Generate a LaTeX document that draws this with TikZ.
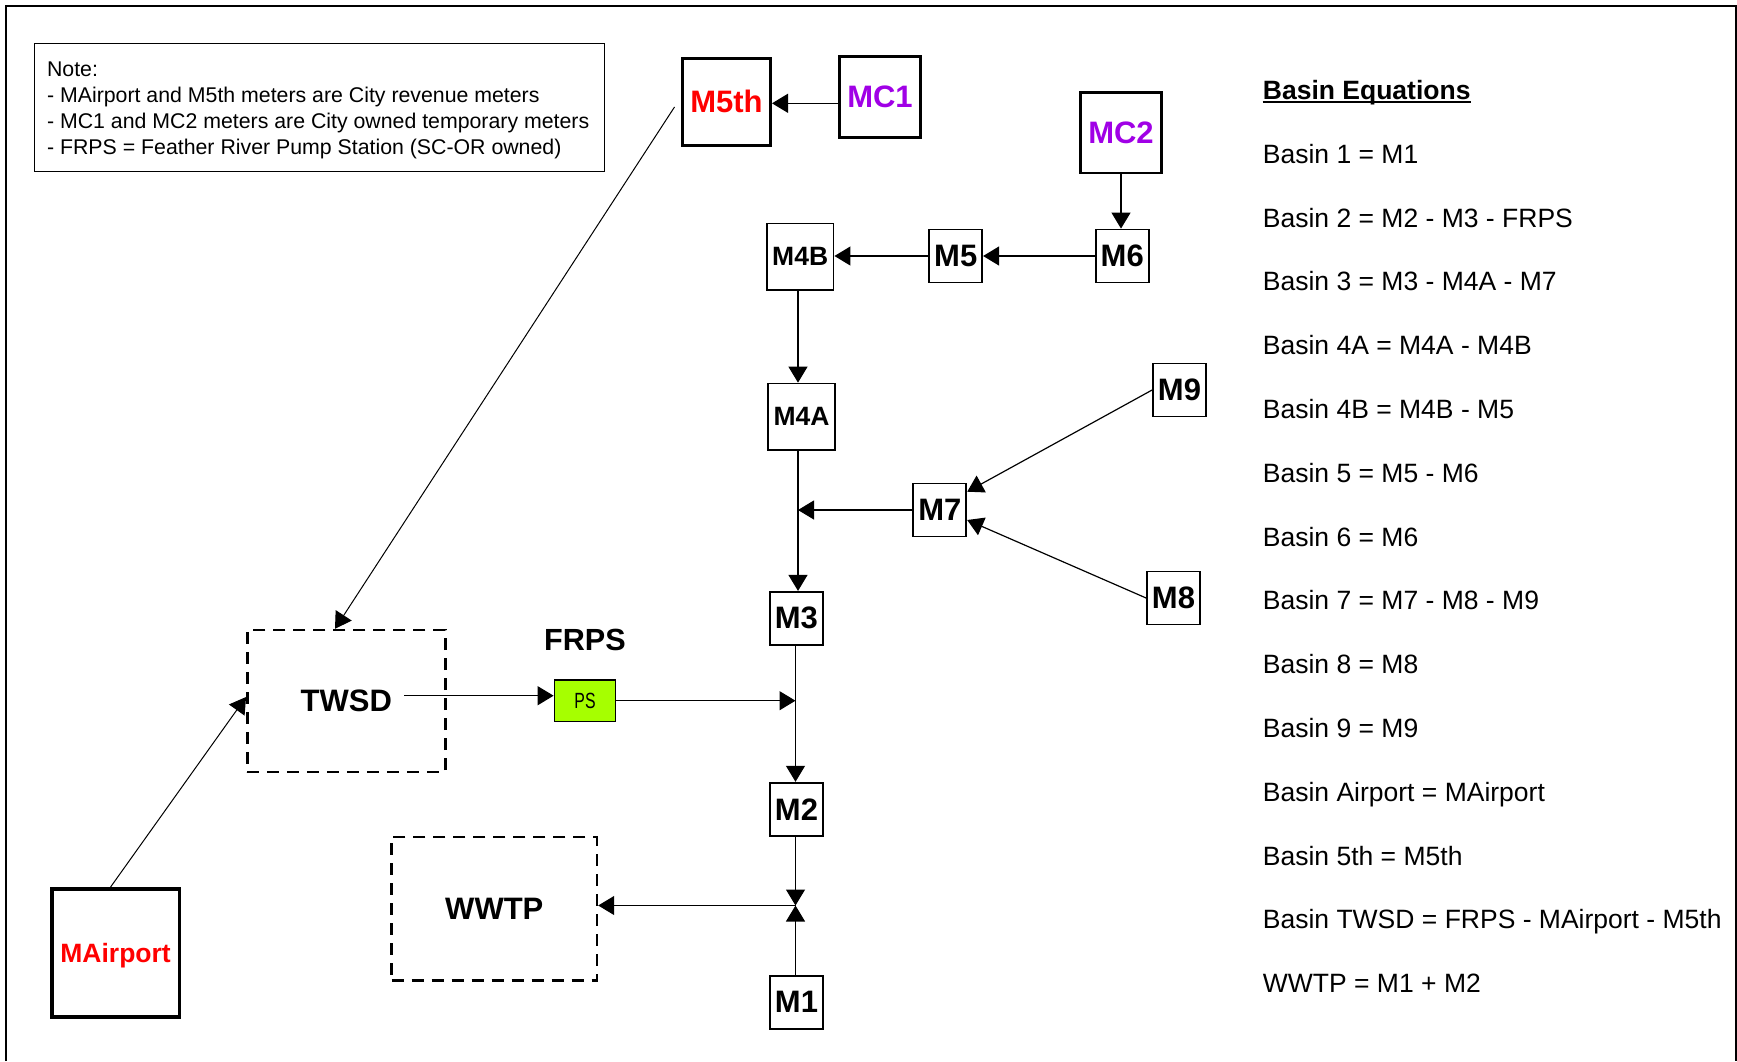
\documentclass[tikz,border=0pt]{standalone}
\usepackage{fontspec}
\setmainfont{Liberation Sans}
\usetikzlibrary{arrows.meta,calc}
\definecolor{meterred}{RGB}{255,0,0}
\definecolor{templilac}{RGB}{160,0,230}
\definecolor{pumpgreen}{RGB}{166,255,0}

\begin{document}
\begin{tikzpicture}[x=1pt,y=-1pt,
  meterbox/.style={draw, inner sep=0pt, line width=1.8pt,
    minimum width=53pt, minimum height=53pt,
    font=\fontsize{31}{31}\selectfont\bfseries},
  widebox/.style={meterbox, minimum width=66.7pt, minimum height=66.5pt,
    font=\fontsize{26.5}{26.5}\selectfont\bfseries},
  citybox/.style={meterbox, line width=3pt},
  basinbox/.style={draw, inner sep=0pt, line width=2.5pt,
    dash pattern=on 12pt off 8pt,
    font=\fontsize{31}{31}\selectfont\bfseries},
  flow/.style={line width=1.2pt, -{Triangle[length=16pt,width=19pt]}},
  eqn/.style={inner sep=0pt, anchor=base west, font=\fontsize{26.5}{30}\selectfont},
]
\useasboundingbox (0,0) rectangle (1737,1061);

% outer frame (open at the bottom)
\draw[line width=2.5pt] (6,1061) -- (6,6) -- (1736,6) -- (1736,1061);

% note box
\node[draw, line width=1.5pt, minimum width=570pt, minimum height=128pt, inner sep=0pt]
  (note) at (319.25,107.5) {};
\node[inner sep=0pt, anchor=west, align=left, font=\fontsize{21.3}{26}\selectfont]
  (notetxt) at (46.9,110)
  {Note:\\
   - MAirport and M5th meters are City revenue meters\\
   - MC1 and MC2 meters are City owned temporary meters\\
   - FRPS = Feather River Pump Station (SC-OR owned)};

% city meters
\node[citybox, minimum width=88pt, minimum height=87pt, text=meterred] (M5th) at (726.5,101.7) {M5th};
\node[citybox, line width=2.6pt, minimum width=81.4pt, minimum height=80.8pt, text=templilac] (MC1) at (880,97) {MC1};
\node[citybox, line width=2.6pt, minimum width=81.4pt, minimum height=80.8pt, text=templilac] (MC2) at (1121,132.7) {MC2};
\node[citybox, line width=3.8pt, minimum width=127.7pt, minimum height=128.2pt, text=meterred,
  text depth=0pt, font=\fontsize{26.5}{26.5}\selectfont\bfseries] (MAirport) at (115.6,953) {MAirport};

% system meters
\node[meterbox] (M6) at (1122.2,256) {M6};
\node[meterbox] (M5) at (955.7,256) {M5};
\node[widebox] (M4B) at (800.2,256.8) {M4B};
\node[widebox] (M4A) at (801.5,416.8) {M4A};
\node[meterbox] (M7) at (939.8,510) {M7};
\node[meterbox] (M9) at (1179.5,390) {M9};
\node[meterbox] (M8) at (1173.5,598) {M8};
\node[meterbox] (M3) at (796.3,618.3) {M3};
\node[meterbox] (M2) at (796.5,809.2) {M2};
\node[meterbox] (M1) at (796.5,1002.2) {M1};

% pump station
\node[draw, line width=1.8pt, fill=pumpgreen, inner sep=0pt, minimum width=61pt, minimum height=41.5pt,
  font=\fontsize{22}{22}\selectfont] (PS) at (585,700.7) {\scalebox{0.72}[1]{PS}};
\node[inner sep=0pt, font=\fontsize{30.6}{30.6}\selectfont\bfseries] (frps) at (585,640) {FRPS};

% basins
\node[basinbox, minimum width=198pt, minimum height=142pt] (TWSD) at (346.3,701) {TWSD};
\node[basinbox, minimum width=205.3pt, minimum height=143.2pt] (WWTP) at (494.3,908.8) {WWTP};

% trunk line helpers
\coordinate (spU) at (798,0);
\coordinate (spL) at (795.5,0);
\coordinate (jW) at (795.5,905.5);
\coordinate (twsdout) at (404,695.7);

% connectors
\draw[flow] ([yshift=-6.3pt]MC1.west) -- ([yshift=-6.3pt]MC1.west -| M5th.east);
\draw[flow] (MC2.south) -- (MC2.south |- M6.north);
\draw[flow] (M6.west) -- (M6.west -| M5.east);
\draw[flow] (M5.west) -- (M5.west -| M4B.east);
\draw[flow] (M4B.south -| spU) -- (M4A.north -| spU);
\draw[flow] (M4A.south -| spU) -- (M3.north -| spU);
\draw[flow] (M7.west) -- (M7.west -| spU);
\draw[flow] (M9.west) -- ([yshift=18.3pt]M7.east);
\draw[flow] (M8.west) -- ([yshift=-10pt]M7.east);
\draw[flow] (M3.south -| spL) -- (M2.north -| spL);
\draw[flow] (PS.east) -- (PS.east -| spL);
\draw[flow] (twsdout) -- (twsdout -| PS.west);
\draw[flow] (M2.south -| spL) -- (jW);
\draw[flow] (M1.north -| spL) -- (jW);
\draw[flow] (jW) -- (jW -| WWTP.east);
\draw[flow, line width=1pt] ([xshift=-6.5pt,yshift=-5.3pt]M5th.west) -- ([xshift=-11.3pt]TWSD.north);
\draw[flow, line width=1pt] ([xshift=-5pt]MAirport.north) -- ([yshift=4pt]TWSD.west);

% basin equations
\node[eqn, font=\fontsize{26.5}{30}\selectfont\bfseries] (eq0) at (1262.7,99.5) {Basin Equations};
\draw[line width=1.8pt] ([yshift=-2.4pt]eq0.base west) -- ([yshift=-2.4pt]eq0.base east);
\foreach \t [count=\k] in {Basin 1 = M1, Basin 2 = M2 - M3 - FRPS, Basin 3 = M3 - M4A - M7,
  Basin 4A = M4A - M4B, Basin 4B = M4B - M5, Basin 5 = M5 - M6, Basin 6 = M6,
  Basin 7 = M7 - M8 - M9, Basin 8 = M8, Basin 9 = M9, Basin Airport = MAirport,
  Basin 5th = M5th, Basin TWSD = FRPS - MAirport - M5th, WWTP = M1 + M2}
  \node[eqn] (eq\k) at (1262.7,{99.5+63.8*\k}) {\t};
\end{tikzpicture}
\end{document}
